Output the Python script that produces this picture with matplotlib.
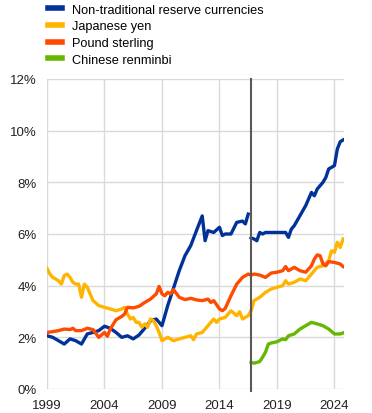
import numpy as np
import matplotlib
matplotlib.use('Agg')
import matplotlib.pyplot as plt

plt.rcParams['font.family'] = ['Liberation Sans', 'DejaVu Sans']

# Shares of global FX reserves (%)
ntr_t1 = [1999, 1999.5, 2000, 2000.5, 2001, 2001.5, 2002, 2002.5, 2003, 2003.5,
          2004, 2004.5, 2005, 2005.5, 2006, 2006.5, 2007, 2007.5, 2008, 2008.5,
          2009, 2009.5, 2010, 2010.5, 2011, 2011.5, 2012, 2012.5, 2012.75, 2013,
          2013.5, 2014, 2014.25, 2014.5, 2015, 2015.5, 2016, 2016.25, 2016.5]
ntr_v1 = [2.06, 2.0, 1.87, 1.74, 1.94, 1.87, 1.74, 2.13, 2.19, 2.26,
          2.43, 2.35, 2.19, 2.0, 2.06, 1.94, 2.09, 2.35, 2.64, 2.71,
          2.45, 3.23, 3.9, 4.58, 5.16, 5.55, 6.13, 6.7, 5.74, 6.13,
          6.06, 6.26, 5.94, 6.0, 6.0, 6.45, 6.5, 6.39, 6.77]
ntr_t2 = [2016.75, 2017, 2017.25, 2017.5, 2017.75, 2018, 2018.5, 2019, 2019.5,
          2019.75, 2020, 2020.25, 2020.5, 2021, 2021.5, 2022, 2022.25, 2022.5,
          2023, 2023.25, 2023.5, 2023.75, 2024, 2024.25, 2024.5, 2024.75]
ntr_v2 = [5.85, 5.81, 5.74, 6.06, 6.0, 6.06, 6.06, 6.06, 6.06,
          6.06, 5.87, 6.19, 6.32, 6.71, 7.1, 7.61, 7.48, 7.74,
          8.0, 8.19, 8.52, 8.58, 8.65, 9.29, 9.57, 9.64]

jpy_t = [1999, 1999.25, 1999.5, 1999.75, 2000, 2000.25, 2000.5, 2000.75, 2001,
         2001.25, 2001.5, 2001.75, 2002, 2002.25, 2002.5, 2002.75, 2003, 2003.5,
         2004, 2004.5, 2005, 2005.5, 2005.75, 2006, 2006.25, 2006.5, 2006.75,
         2007, 2007.25, 2007.5, 2007.75, 2008, 2008.25, 2008.5, 2008.75, 2009,
         2009.5, 2010, 2010.5, 2011, 2011.5, 2011.75, 2012, 2012.5, 2013, 2013.5,
         2013.75, 2014, 2014.5, 2015, 2015.5, 2015.75, 2016, 2016.5, 2016.75,
         2017, 2017.5, 2018, 2018.5, 2019, 2019.5, 2019.75, 2020, 2020.5, 2021,
         2021.5, 2022, 2022.5, 2023, 2023.5, 2023.75, 2024, 2024.25, 2024.5,
         2024.75]
jpy_v = [4.67, 4.45, 4.32, 4.26, 4.19, 4.06, 4.39, 4.45, 4.32,
         4.13, 4.06, 4.06, 3.55, 4.06, 3.94, 3.68, 3.42, 3.23,
         3.16, 3.1, 3.03, 3.1, 3.16, 2.9, 2.71, 2.77, 2.58,
         2.58, 2.39, 2.52, 2.39, 2.71, 2.65, 2.45, 2.19, 1.87,
         2.0, 1.87, 1.94, 2.0, 2.06, 1.91, 2.13, 2.19, 2.45, 2.71,
         2.58, 2.71, 2.77, 3.03, 2.84, 2.99, 2.71, 2.84, 3.03,
         3.42, 3.55, 3.74, 3.87, 3.94, 4.0, 4.19, 4.06, 4.13, 4.26,
         4.19, 4.45, 4.71, 4.77, 4.97, 5.35, 5.29, 5.68, 5.48,
         5.81]

gbp_t = [1999, 1999.5, 2000, 2000.5, 2001, 2001.25, 2001.5, 2002, 2002.5, 2003,
         2003.5, 2004, 2004.25, 2004.5, 2005, 2005.5, 2005.75, 2006, 2006.5,
         2007, 2007.5, 2008, 2008.5, 2008.75, 2009, 2009.25, 2009.5, 2009.75,
         2010, 2010.5, 2011, 2011.5, 2012, 2012.5, 2013, 2013.25, 2013.5, 2014,
         2014.25, 2014.5, 2015, 2015.5, 2016, 2016.5, 2016.75, 2017, 2017.5,
         2018, 2018.5, 2019, 2019.5, 2019.75, 2020, 2020.5, 2021, 2021.5, 2022,
         2022.25, 2022.5, 2022.75, 2023, 2023.25, 2023.5, 2024, 2024.5, 2024.75]
gbp_v = [2.19, 2.22, 2.26, 2.32, 2.3, 2.35, 2.26, 2.26, 2.35, 2.3,
         2.0, 2.19, 2.04, 2.32, 2.68, 2.81, 2.9, 3.16, 3.14,
         3.2, 3.35, 3.48, 3.68, 3.97, 3.68, 3.61, 3.74, 3.68,
         3.85, 3.55, 3.46, 3.51, 3.45, 3.42, 3.48, 3.35, 3.42, 3.1,
         3.03, 3.12, 3.61, 4.06, 4.32, 4.45, 4.41, 4.45, 4.41,
         4.32, 4.49, 4.52, 4.58, 4.74, 4.58, 4.71, 4.58, 4.52, 4.77,
         5.03, 5.19, 5.16, 4.84, 4.77, 4.93, 4.9, 4.84, 4.74]

cny_t = [2016.75, 2017, 2017.5, 2017.75, 2018, 2018.25, 2018.5, 2019, 2019.5,
         2019.75, 2020, 2020.5, 2021, 2021.5, 2022, 2022.5, 2023, 2023.5, 2024,
         2024.5, 2024.75]
cny_v = [1.03, 1.0, 1.06, 1.23, 1.42, 1.74, 1.78, 1.83, 1.94,
         1.91, 2.06, 2.13, 2.32, 2.45, 2.58, 2.52, 2.45, 2.32, 2.13,
         2.13, 2.17]

break_date = 2016.75
years = [1999, 2004, 2009, 2014, 2019, 2024]
pct_ticks = [0, 2, 4, 6, 8, 10, 12]

blue, yellow, orange, green = '#003299', '#ffb400', '#ff4b00', '#65b800'

fig = plt.figure(figsize=(3.72, 4.14), dpi=100)
ax = fig.add_axes([47 / 372, 1 - 390 / 414, 297 / 372, 310 / 414])

lw = 2.4
ax.plot(ntr_t1, ntr_v1, color=blue, lw=lw, label='Non-traditional reserve currencies', zorder=3)
ax.plot(ntr_t2, ntr_v2, color=blue, lw=lw, zorder=3)
ax.plot(jpy_t, jpy_v, color=yellow, lw=lw, label='Japanese yen', zorder=3)
ax.plot(gbp_t, gbp_v, color=orange, lw=lw, label='Pound sterling', zorder=3)
ax.plot(cny_t, cny_v, color=green, lw=lw, label='Chinese renminbi', zorder=3)

ax.axvline(break_date, ymin=-0.006, ymax=1, color='#595959', lw=1.5, zorder=4, clip_on=False)

ax.set_xlim(1999, 2024.83)
ax.set_ylim(0, 12)
ax.set_xticks(years)
ax.set_xticklabels([str(y) for y in years])
ax.set_yticks(pct_ticks)
ax.set_yticklabels([f'{p}%' for p in pct_ticks])
ax.grid(True, color='#d9d9d9', lw=1)
ax.set_axisbelow(True)
for s in ax.spines.values():
    s.set_visible(False)
ax.tick_params(length=0, labelsize=9.5, colors='#222222')
ax.tick_params(axis='x', pad=7)
ax.tick_params(axis='y', pad=7.5)

fig.legend(loc='upper left', bbox_to_anchor=(47 / 372, 1 - 3.5 / 414), frameon=False,
           fontsize=9.2, handlelength=1.1, handletextpad=0.75, labelspacing=0.36,
           borderaxespad=0.0, borderpad=0.1)
for line in fig.legends[0].get_lines():
    line.set_linewidth(4)

fig.savefig('out.png', dpi=100)
